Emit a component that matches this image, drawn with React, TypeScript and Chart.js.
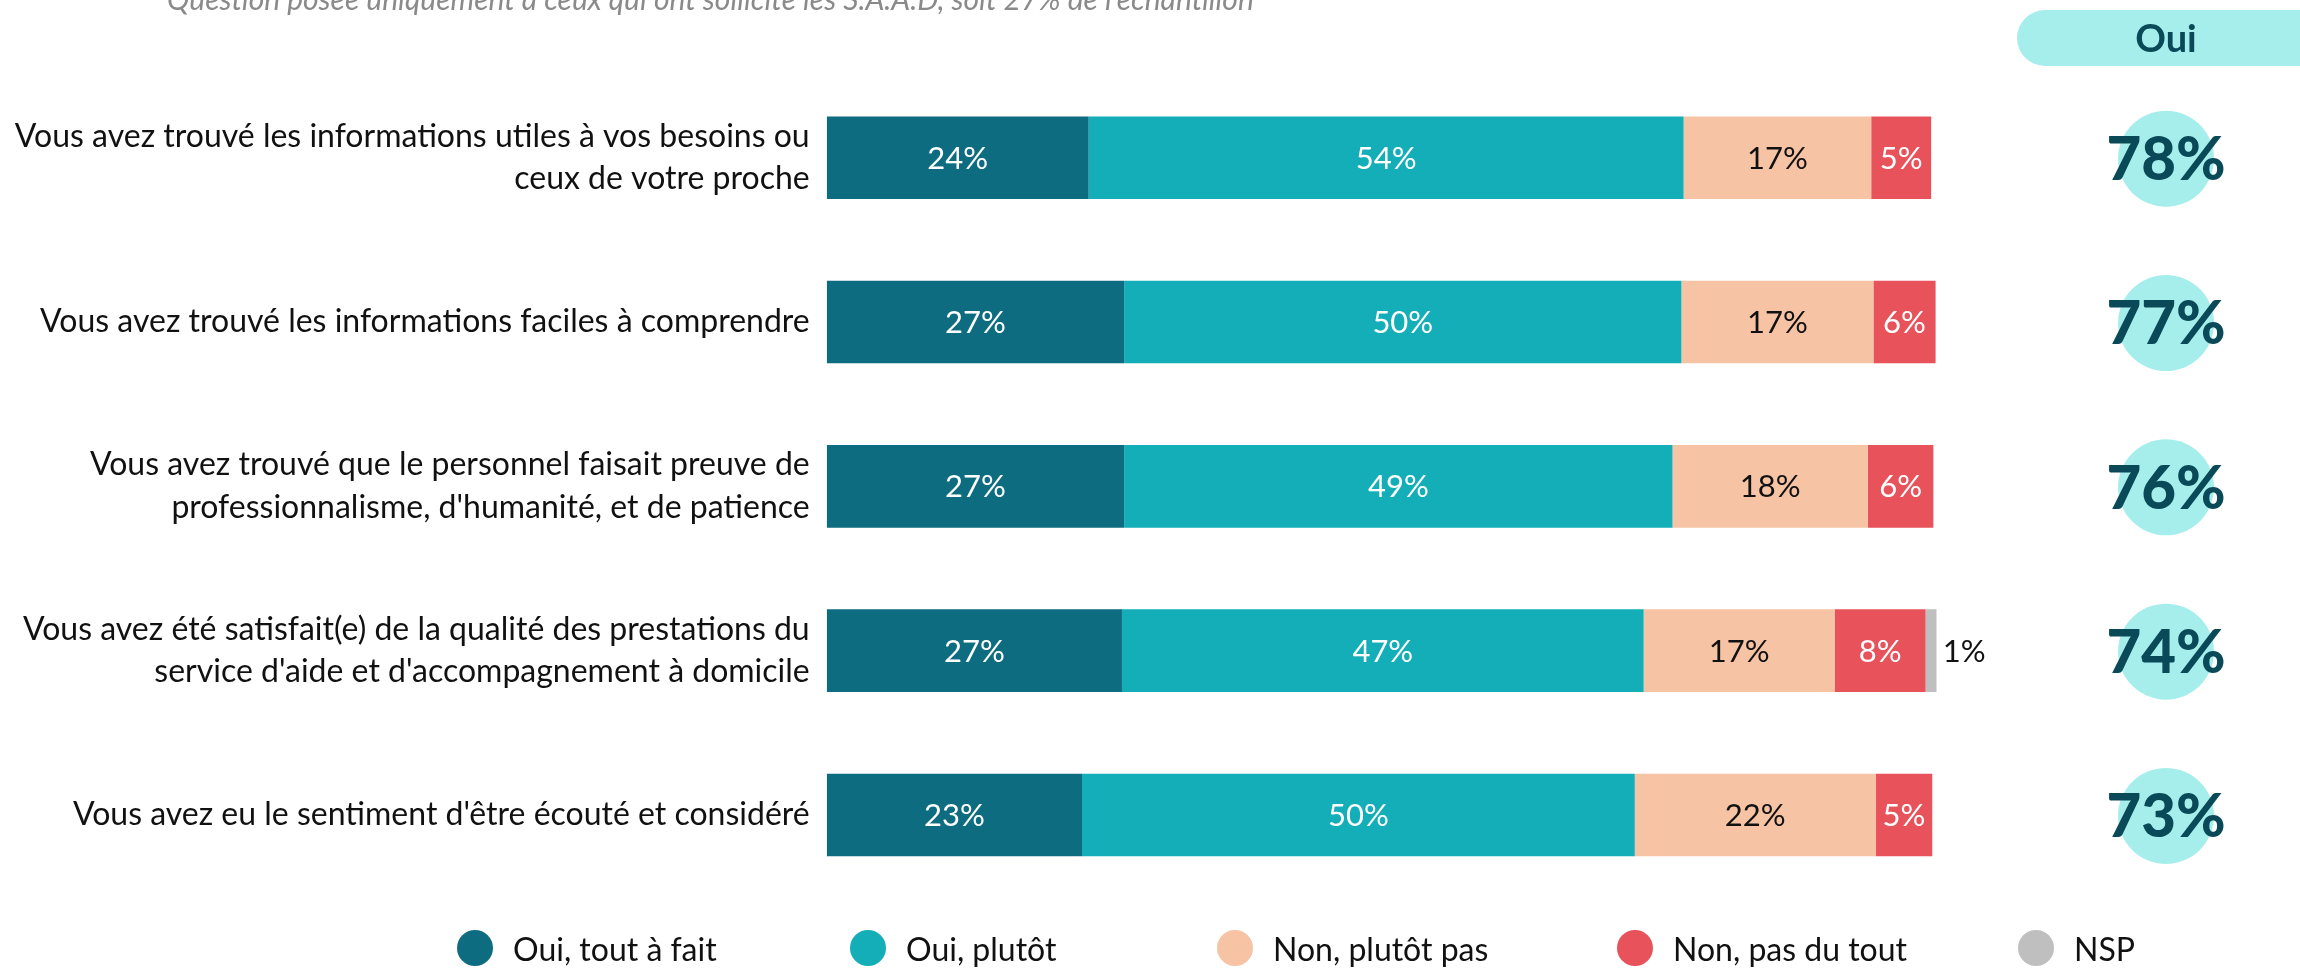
import React, { useEffect, useRef } from 'react';
import { Chart, registerables } from 'chart.js';

Chart.register(...registerables);

const FONT = "Lato, 'Open Sans', sans-serif";

const titleText = "Question posée uniquement à ceux qui ont sollicité les S.A.A.D, soit 27% de l'échantillon";

const categories: (string | string[])[] = [
  ['Vous avez trouvé les informations utiles à vos besoins ou', 'ceux de votre proche'],
  'Vous avez trouvé les informations faciles à comprendre',
  ['Vous avez trouvé que le personnel faisait preuve de', "professionnalisme, d'humanité, et de patience"],
  ['Vous avez été satisfait(e) de la qualité des prestations du', "service d'aide et d'accompagnement à domicile"],
  "Vous avez eu le sentiment d'être écouté et considéré",
];

const seriesNames = ['Oui, tout à fait', 'Oui, plutôt', 'Non, plutôt pas', 'Non, pas du tout', 'NSP'];
const ouiToutAFait = [23.6, 26.8, 26.8, 26.6, 23.0];
const ouiPlutot = [53.6, 50.2, 49.4, 47.0, 49.8];
const nonPlutotPas = [16.9, 17.3, 17.6, 17.2, 21.7];
const nonPasDuTout = [5.4, 5.6, 5.9, 8.2, 5.1];
const nsp = [null, null, null, 1.0, null];
const ouiTotal = [78, 77, 76, 74, 73];
const ouiHeader = 'Oui';

const seriesColors = ['#0e6c80', '#13aeb7', '#f7c3a5', '#e8525a', '#bfbfbf'];
const labelColors = ['#ffffff', '#ffffff', '#111111', '#ffffff', '#111111'];
const legendX = [475, 868, 1235, 1635, 2036];

const overlayPlugin = {
  id: 'overlay',
  afterDatasetsDraw(chart: any) {
    const ctx = chart.ctx as CanvasRenderingContext2D;
    ctx.save();
    chart.data.datasets.forEach((ds: any, di: number) => {
      const meta = chart.getDatasetMeta(di);
      meta.data.forEach((bar: any, i: number) => {
        const v = ds.data[i];
        if (v == null || v === 0) return;
        const p = bar.getProps(['x', 'base', 'y'], true);
        const w = p.x - p.base;
        const label = Math.round(v) + '%';
        ctx.font = `31px ${FONT}`;
        ctx.textBaseline = 'middle';
        if (w < 30) {
          ctx.fillStyle = '#111111';
          ctx.textAlign = 'left';
          ctx.fillText(label, p.x + 6, p.y + 1);
        } else {
          ctx.fillStyle = labelColors[di];
          ctx.textAlign = 'center';
          ctx.fillText(label, (p.x + p.base) / 2, p.y + 1);
        }
      });
    });
    ctx.restore();
  },
  afterDraw(chart: any) {
    const ctx = chart.ctx as CanvasRenderingContext2D;
    const yScale = chart.scales.y;
    ctx.save();
    // title (partially cut at top)
    ctx.font = `italic 30px ${FONT}`;
    ctx.fillStyle = '#8a8a8a';
    ctx.textAlign = 'left';
    ctx.textBaseline = 'alphabetic';
    ctx.fillText(titleText, 167, 10);

    // Oui header pill
    const cx = 2166;
    ctx.fillStyle = '#a6eeec';
    ctx.beginPath();
    (ctx as any).roundRect(2017, 10, 340, 56, 28);
    ctx.fill();
    ctx.fillStyle = '#0a4a58';
    ctx.font = `bold 38px ${FONT}`;
    ctx.textAlign = 'center';
    ctx.textBaseline = 'middle';
    ctx.fillText(ouiHeader, cx, 40);

    // Oui totals
    ouiTotal.forEach((v, i) => {
      const y = yScale.getPixelForTick(i);
      ctx.fillStyle = '#a6eeec';
      ctx.beginPath();
      ctx.arc(cx, y + 1, 48, 0, Math.PI * 2);
      ctx.fill();
      ctx.fillStyle = '#0a4a58';
      ctx.font = `900 60px ${FONT}`;
      ctx.textAlign = 'center';
      ctx.textBaseline = 'middle';
      ctx.fillText(v + '%', cx, y + 3);
    });

    // legend
    chart.data.datasets.forEach((ds: any, di: number) => {
      const x = legendX[di];
      const y = 948;
      ctx.fillStyle = ds.backgroundColor;
      ctx.beginPath();
      ctx.arc(x, y, 18, 0, Math.PI * 2);
      ctx.fill();
      ctx.fillStyle = '#111111';
      ctx.font = `32px ${FONT}`;
      ctx.textAlign = 'left';
      ctx.textBaseline = 'middle';
      ctx.fillText(ds.label, x + 38, y + 3);
    });
    ctx.restore();
  },
};

export default function App() {
  const canvasRef = useRef<HTMLCanvasElement | null>(null);

  useEffect(() => {
    document.body.style.margin = '0';
    const canvas = canvasRef.current;
    if (!canvas) return;
    const seriesValues = [ouiToutAFait, ouiPlutot, nonPlutotPas, nonPasDuTout, nsp];
    const chart = new Chart(canvas, {
      type: 'bar',
      data: {
        labels: categories,
        datasets: seriesValues.map((vals, i) => ({
          label: seriesNames[i],
          data: vals,
          backgroundColor: seriesColors[i],
          borderWidth: 0,
          barPercentage: 0.503,
          categoryPercentage: 1,
        })),
      },
      options: {
        indexAxis: 'y',
        animation: false,
        responsive: false,
        devicePixelRatio: 1,
        layout: { padding: { top: 75.6, bottom: 71.9, left: 0, right: 363.3 } },
        plugins: {
          legend: { display: false },
          tooltip: { enabled: false },
          title: { display: false },
        },
        scales: {
          x: { stacked: true, min: 0, max: 100, display: false },
          y: {
            stacked: true,
            grid: { display: false },
            border: { display: false },
            ticks: {
              color: '#111111',
              padding: 9,
              font: { family: FONT, size: 32, lineHeight: 1.33 },
            },
            afterFit: (scale: any) => {
              scale.width = 826.7;
            },
          },
        },
      } as any,
      plugins: [overlayPlugin],
    });
    return () => chart.destroy();
  }, []);

  return (
    <div style={{ position: 'absolute', left: 0, top: 0, width: 2300, height: 969, background: '#fff' }}>
      <canvas ref={canvasRef} width={2300} height={969} />
    </div>
  );
}
